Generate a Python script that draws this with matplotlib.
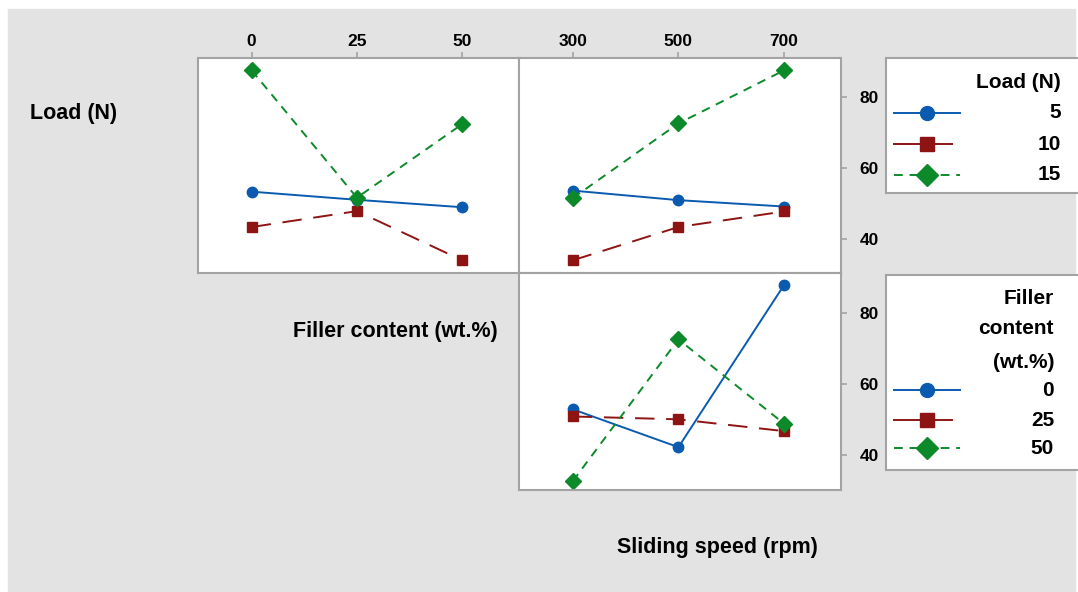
import matplotlib
matplotlib.use("Agg")
import matplotlib.pyplot as plt
from matplotlib.patches import Rectangle

plt.rcParams['font.family'] = ['Liberation Sans', 'DejaVu Sans']

# --- data ---
filler_levels = ['0', '25', '50']
speed_levels = ['300', '500', '700']
load_levels = ['5', '10', '15']

# mean response vs filler content, one line per load
load5_filler = [53.3, 51.0, 48.9]
load10_filler = [43.3, 47.8, 33.9]
load15_filler = [87.6, 51.6, 72.4]

# mean response vs sliding speed, one line per load
load5_speed = [53.6, 50.9, 49.1]
load10_speed = [33.9, 43.3, 47.7]
load15_speed = [51.5, 72.6, 87.6]

# mean response vs sliding speed, one line per filler content
filler0_speed = [52.9, 42.3, 87.7]
filler25_speed = [50.9, 50.1, 46.8]
filler50_speed = [32.8, 72.5, 48.9]

y_ticks = [40, 60, 80]

# styles
blue = '#0a5bb0'
red = '#8e1414'
green = '#0c8a2a'
styles = [
    dict(color=blue, linestyle='-', marker='o', markersize=7.5),
    dict(color=red, linestyle=(0, (10, 6)), marker='s', markersize=7.5),
    dict(color=green, linestyle=(0, (4.5, 3.5)), marker='D', markersize=8.5),
]
frame_col = '#a3a3a3'
lw = 1.4

W, H = 1078, 592
fig = plt.figure(figsize=(W / 100, H / 100), dpi=100, facecolor='white')
fig.patches.append(Rectangle((8 / W, 0), (1075 - 8) / W, (H - 9) / H,
                             transform=fig.transFigure, color='#e3e3e3', zorder=-10))


def px_axes(x0, y0, x1, y1):
    return fig.add_axes([x0 / W, 1 - y1 / H, (x1 - x0) / W, (y1 - y0) / H])


def style_panel(ax):
    ax.set_facecolor('white')
    for s in ax.spines.values():
        s.set_color(frame_col)
        s.set_linewidth(1.5)
    ax.set_xlim(-0.51, 2.54)
    ax.set_ylim(30.3, 91.1)
    ax.tick_params(colors=frame_col, labelcolor='black', length=4.5, width=1.2,
                   labelsize=12.5)


ax_tl = px_axes(198, 58, 519, 273)
ax_tr = px_axes(519, 58, 841, 273)
ax_br = px_axes(519, 273, 841, 490)

xpos = [0, 1, 2]
for ys, st in zip([load5_filler, load10_filler, load15_filler], styles):
    ax_tl.plot(xpos, ys, linewidth=lw, clip_on=False, **st)
for ys, st in zip([load5_speed, load10_speed, load15_speed], styles):
    ax_tr.plot(xpos, ys, linewidth=lw, clip_on=False, **st)
for ys, st in zip([filler0_speed, filler25_speed, filler50_speed], styles):
    ax_br.plot(xpos, ys, linewidth=lw, clip_on=False, **st)

# top-left: top ticks only
ax_tl.xaxis.tick_top()
ax_tl.set_xticks(xpos, filler_levels)
ax_tl.set_yticks([])
# top-right: top ticks + right ticks
ax_tr.xaxis.tick_top()
ax_tr.set_xticks(xpos, speed_levels)
ax_tr.yaxis.tick_right()
ax_tr.set_yticks(y_ticks)
# bottom-right: right ticks only
ax_br.set_xticks([])
ax_br.yaxis.tick_right()
ax_br.set_yticks(y_ticks)

for ax in (ax_tl, ax_tr, ax_br):
    style_panel(ax)
    ax.tick_params(axis='x', pad=2)
    ax.tick_params(axis='y', pad=9)
    for lab in ax.get_xticklabels() + ax.get_yticklabels():
        lab.set_fontweight('bold')

# axis titles
fig.text(30 / W, 1 - 113 / H, 'Load (N)', fontsize=15.5, fontweight='bold',
         ha='left', va='center')
fig.text(395 / W, 1 - 331 / H, 'Filler content (wt.%)', fontsize=15.5,
         fontweight='bold', ha='center', va='center')
fig.text(717 / W, 1 - 548 / H, 'Sliding speed (rpm)', fontsize=15.5,
         fontweight='bold', ha='center', va='center')


# legends drawn as small boxes with pixel coordinates inside
def legend_box(y0, y1, title_lines, title_ys, labels, label_ys, text_right):
    x0, x1 = 886, 1077
    ax = px_axes(x0, y0, x1, y1)
    ax.set_xlim(0, x1 - x0)
    ax.set_ylim(y1 - y0, 0)
    ax.set_xticks([])
    ax.set_yticks([])
    ax.set_facecolor('white')
    for s in ax.spines.values():
        s.set_color(frame_col)
        s.set_linewidth(1.5)
    ax.spines['right'].set_visible(False)
    for t, ty in zip(title_lines, title_ys):
        ax.text(text_right, ty, t, fontsize=15, fontweight='bold',
                ha='right', va='center')
    for i, (lab, ly, st) in enumerate(zip(labels, label_ys, styles)):
        # the long-dash sample shows as one dash on each side of the marker
        x_end = 66 if i == 1 else 74
        ls = '-' if i == 1 else st['linestyle']
        ax.plot([8, x_end], [ly, ly], color=st['color'], linestyle=ls,
                linewidth=lw)
        ax.plot([41], [ly], color=st['color'], marker=st['marker'],
                markersize=10 if i < 2 else 11, linestyle='none')
        ax.text(text_right, ly, lab, fontsize=15, fontweight='bold',
                ha='right', va='center')


legend_box(58, 193, ['Load (N)'], [24], load_levels, [55, 86, 117], 175)
legend_box(275, 470, ['Filler', 'content', '(wt.%)'], [23, 53, 87],
           filler_levels, [115, 145, 173], 168)

fig.savefig('out.png', dpi=100, facecolor=fig.get_facecolor())
